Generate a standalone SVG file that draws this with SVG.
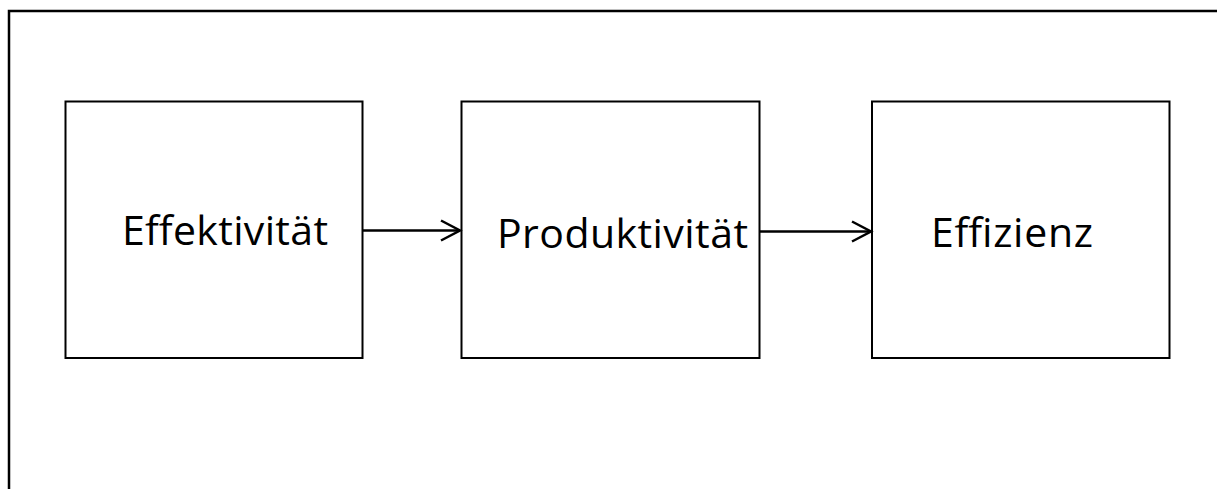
<svg xmlns="http://www.w3.org/2000/svg" width="1217" height="489" viewBox="0 0 1217 489">
<defs>
<style>
.box{fill:#fff;stroke:#000;stroke-width:2}
.lbl{font-family:"Open Sans","Liberation Sans",sans-serif;font-size:41px;fill:#000}
.conn{stroke:#000;stroke-width:2.5;fill:none}
.head{stroke:#000;stroke-width:2.5;fill:none}
</style>
<marker id="arr" markerWidth="24" markerHeight="26" refX="21" refY="13" orient="auto" markerUnits="userSpaceOnUse">
<path d="M2,3 L21,13 L2,23" class="head"/>
</marker>
</defs>
<rect width="1217" height="489" fill="#fff"/>
<path d="M9,489 L9,11 L1217,11" fill="none" stroke="#000" stroke-width="2.5"/>
<g id="n1"><rect class="box" x="65.5" y="101.5" width="297" height="256.5"/><text class="lbl" x="122" y="245" textLength="206">Effektivität</text></g>
<g id="n2"><rect class="box" x="461.5" y="101.5" width="298" height="256.5"/><text class="lbl" x="497" y="248" textLength="251">Produktivität</text></g>
<g id="n3"><rect class="box" x="872" y="101.5" width="297.5" height="256.5"/><text class="lbl" x="931" y="247" textLength="162">Effizienz</text></g>
<g id="connectors">
<line class="conn" x1="363" y1="230.5" x2="460" y2="230.5" marker-end="url(#arr)"/>
<line class="conn" x1="760" y1="231.5" x2="871" y2="231.5" marker-end="url(#arr)"/>
</g>
</svg>
